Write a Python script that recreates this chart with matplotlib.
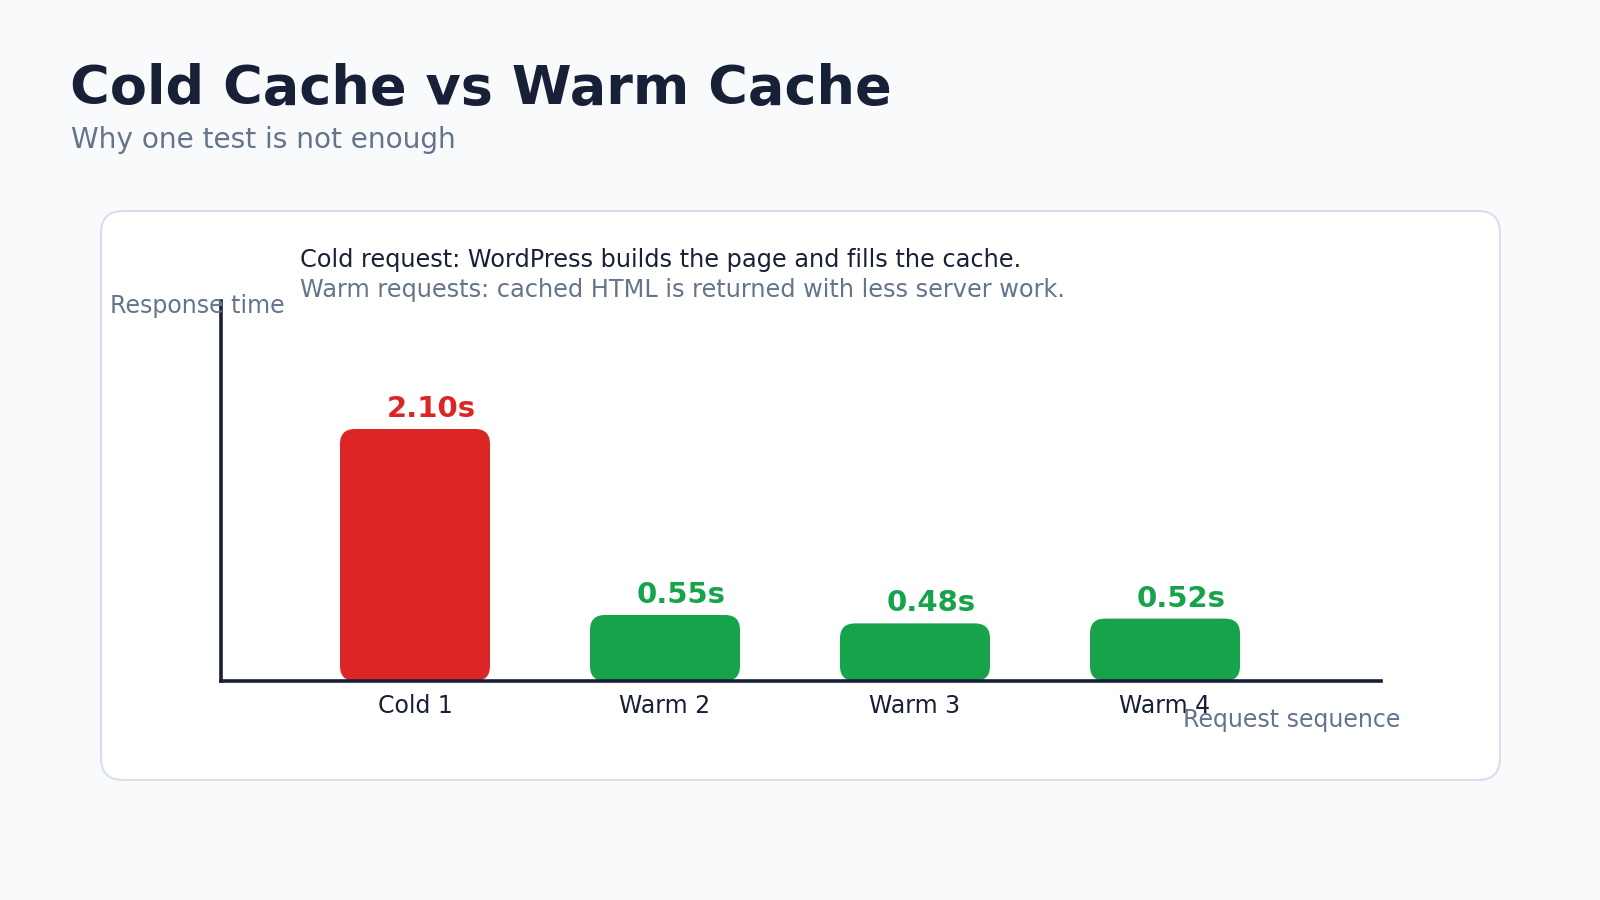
import matplotlib.pyplot as plt
from matplotlib.patches import FancyBboxPatch

plt.rcParams['font.family'] = ['DejaVu Sans']

# data
labels = ['Cold 1', 'Warm 2', 'Warm 3', 'Warm 4']
times = [2.10, 0.55, 0.48, 0.52]
value_text = ['2.10s', '0.55s', '0.48s', '0.52s']
kinds = ['cold', 'warm', 'warm', 'warm']

colors = {'cold': '#dc2626', 'warm': '#16a34a'}
dark = '#172036'
gray = '#64748b'
bg = '#f8fafc'

W, H = 1600, 900

def fx(px):
    return px / W

def fy(py):
    return 1 - py / H

fig = plt.figure(figsize=(16, 9), dpi=100)
fig.patch.set_facecolor(bg)

# background layer in pixel coordinates for the card
ax_bg = fig.add_axes([0, 0, 1, 1])
ax_bg.set_xlim(0, W)
ax_bg.set_ylim(H, 0)
ax_bg.axis('off')
card = FancyBboxPatch((101, 211), 1399, 569,
                      boxstyle='round,pad=0,rounding_size=22',
                      facecolor='white', edgecolor='#d8dfea', linewidth=1.5)
ax_bg.add_patch(card)

# titles
fig.text(fx(70), fy(103.5), 'Cold Cache vs Warm Cache', fontsize=39,
         fontweight='bold', color=dark, va='baseline')
fig.text(fx(71), fy(147.5), 'Why one test is not enough', fontsize=20.2,
         color=gray, va='baseline')

# annotation lines
fig.text(fx(300), fy(267), 'Cold request: WordPress builds the page and fills the cache.',
         fontsize=17.3, color=dark, va='baseline')
fig.text(fx(300), fy(297), 'Warm requests: cached HTML is returned with less server work.',
         fontsize=17.3, color=gray, va='baseline')

# chart axes
x0, x1 = 221, 1381
y_top, y_base = 301, 681
ax = fig.add_axes([fx(x0), fy(y_base), (x1 - x0) / W, (y_base - y_top) / H])
ax.set_facecolor('none')

px_per_x = 250.0
px_per_y = 120.0
ax.set_xlim(-(415 - x0) / px_per_x, 3 + (x1 - 1165) / px_per_x)
ax.set_ylim(0, (y_base - y_top) / px_per_y)

bar_w = 0.6
rects = ax.bar(range(len(times)), times, width=bar_w)
radius_px = 15
for rect, kind in zip(rects, kinds):
    x, y = rect.get_x(), rect.get_y()
    w, h = rect.get_width(), rect.get_height()
    rect.remove()
    rb = FancyBboxPatch((x, y), w, h,
                        boxstyle=f'round,pad=0,rounding_size={radius_px / px_per_x}',
                        mutation_aspect=px_per_x / px_per_y,
                        facecolor=colors[kind], edgecolor='none', zorder=2)
    ax.add_patch(rb)

for i, (t, txt, kind) in enumerate(zip(times, value_text, kinds)):
    ax.annotate(txt, xy=(i, t), xytext=(16, 12), textcoords='offset pixels',
                ha='center', va='baseline', fontsize=21, fontweight='bold',
                color=colors[kind])
    ax.annotate(labels[i], xy=(i, 0), xytext=(0, -32), textcoords='offset pixels',
                ha='center', va='baseline', fontsize=17, color=dark)

for side in ['top', 'right']:
    ax.spines[side].set_visible(False)
for side in ['left', 'bottom']:
    ax.spines[side].set_linewidth(2.6)
    ax.spines[side].set_color(dark)
    ax.spines[side].set_zorder(3)
ax.set_xticks([])
ax.set_yticks([])

fig.text(fx(110), fy(313), 'Response time', fontsize=17, color=gray, va='baseline')
fig.text(fx(1400), fy(727), 'Request sequence', fontsize=17, color=gray,
         va='baseline', ha='right')

fig.savefig('out.png', dpi=100, facecolor=bg)
